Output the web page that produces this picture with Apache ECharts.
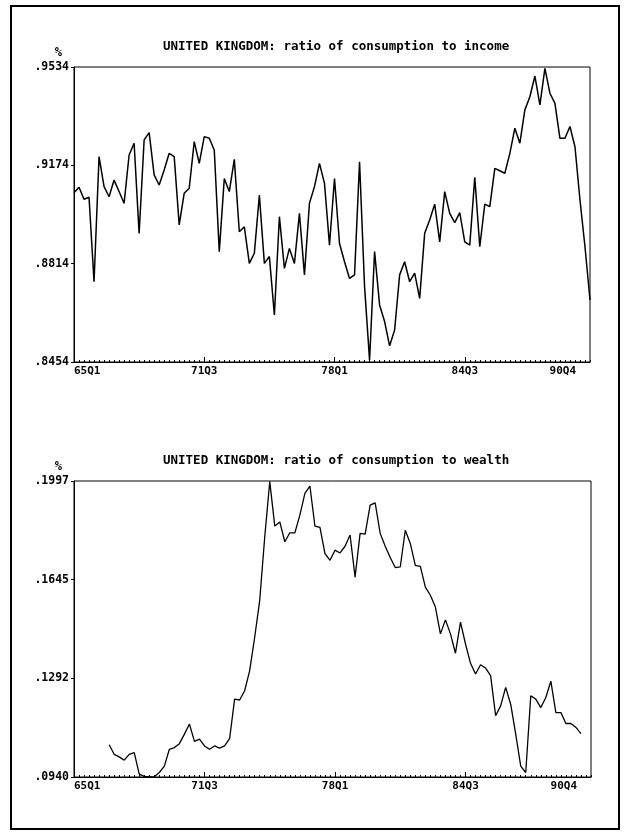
<!DOCTYPE html>
<html><head><meta charset="utf-8">
<script src="https://cdn.jsdelivr.net/npm/echarts@6.0.0/dist/echarts.min.js"></script>
<style>html,body{margin:0;padding:0;background:#fff}#c{width:624px;height:834px}</style>
</head><body><div id="c"></div>
<script>
// Quarterly categories 65Q1 .. 90Q4
const quarters = [];
for (let y = 65; y <= 90; y++) for (let q = 1; q <= 4; q++) quarters.push(y + 'Q' + q);
const xLabelIdx = [0, 26, 52, 78, 103];
const majorTickIdx = [26, 52, 78];
const incomeTicks = [0.8454, 0.8814, 0.9174, 0.9534];
const wealthTicks = [0.0940, 0.1292, 0.1645, 0.1997];
const titles = [
  'UNITED KINGDOM: ratio of consumption to income',
  'UNITED KINGDOM: ratio of consumption to wealth'
];
const incomeRatio = [
  .9074,.9094,.9050,.9057,.8748,.9206,.9096,.9059,.9120,.9078,
  .9035,.9212,.9255,.8925,.9267,.9294,.9139,.9102,.9157,.9218,
  .9206,.8956,.9072,.9090,.9261,.9181,.9279,.9273,.9230,.8858,
  .9126,.9078,.9196,.8931,.8949,.8815,.8852,.9065,.8815,.8840,
  .8626,.8986,.8797,.8870,.8815,.8998,.8773,.9035,.9096,.9181,
  .9108,.8882,.9126,.8888,.8821,.8760,.8773,.9187,.8730,.8461,
  .8858,.8663,.8602,.8513,.8571,.8773,.8821,.8748,.8779,.8687,
  .8925,.8974,.9032,.8894,.9078,.8998,.8964,.9001,.8894,.8882,
  .9130,.8876,.9032,.9023,.9163,.9154,.9145,.9218,.9310,.9255,
  .9377,.9425,.9501,.9395,.9529,.9438,.9401,.9273,.9273,.9316,
  .9242,.9047,.8876,.8681
];
const wealthRatio = [
  null,null,null,null,null,null,null,
  .1055,.1021,.1012,.1000,.1021,.1027,.0950,.0942,.0940,.0941,
  .0956,.0979,.1039,.1045,.1059,.1093,.1129,.1067,.1075,.1051,
  .1039,.1051,.1043,.1051,.1077,.1218,.1215,.1248,.1320,.1439,
  .1571,.1797,.1995,.1836,.1851,.1780,.1812,.1812,.1875,.1953,
  .1979,.1836,.1831,.1738,.1714,.1750,.1740,.1764,.1804,.1654,
  .1810,.1807,.1911,.1919,.1810,.1764,.1724,.1688,.1690,.1821,
  .1774,.1696,.1692,.1618,.1589,.1547,.1451,.1501,.1451,.1382,
  .1493,.1415,.1346,.1308,.1341,.1329,.1302,.1159,.1194,.1260,
  .1200,.1093,.0979,.0956,.1230,.1218,.1188,.1224,.1282,.1170,
  .1170,.1131,.1131,.1117,.1095,null,null
];

const FONT = 'DejaVu Sans Mono';
const fmt = v => v.toFixed(4).replace(/^0/, '');
const lastIdx = xLabelIdx[xLabelIdx.length - 1];
const panels = [
  {title: titles[0], data: incomeRatio, ticks: incomeTicks, grid: {left: 74, top: 67, width: 516, height: 295}, titleTop: 35, lw: 1.5},
  {title: titles[1], data: wealthRatio, ticks: wealthTicks, grid: {left: 74, top: 481, width: 517, height: 296}, titleTop: 449, lw: 1.3}
];

const option = {
  animation: false,
  backgroundColor: '#fff',
  title: panels.map(p => ({
    text: p.title, left: 158, top: p.titleTop,
    textStyle: {fontFamily: FONT, fontWeight: 'bold', fontSize: 12.5, color: '#000'}
  })),
  grid: panels.map(p => Object.assign({show: true, borderColor: '#000', borderWidth: 1, backgroundColor: 'transparent'}, p.grid)),
  xAxis: [],
  yAxis: [],
  series: [],
  graphic: [{
    type: 'rect', shape: {x: 11, y: 6, width: 608, height: 823},
    style: {fill: 'none', stroke: '#000', lineWidth: 2}, silent: true
  }]
};

panels.forEach((p, g) => {
  option.xAxis.push({
    type: 'category', gridIndex: g, data: quarters, boundaryGap: false, position: 'bottom',
    axisLine: {lineStyle: {color: '#000', width: 1}},
    axisTick: {interval: 0, inside: true, length: 2, lineStyle: {color: '#000'}},
    axisLabel: {
      interval: (i) => xLabelIdx.includes(i),
      formatter: (v, i) => i === lastIdx ? '{last|' + v + '}' : v,
      rich: {last: {padding: [0, 14, 0, 0], color: '#000', fontFamily: FONT, fontWeight: 'bold', fontSize: 11}},
      alignMinLabel: 'left', alignMaxLabel: 'right',
      color: '#000', fontFamily: FONT, fontWeight: 'bold', fontSize: 11, margin: 4
    },
    splitLine: {show: false}
  });
  option.xAxis.push({
    type: 'category', gridIndex: g, data: quarters, boundaryGap: false, position: 'bottom',
    axisLine: {show: false}, axisLabel: {show: false},
    axisTick: {interval: (i) => majorTickIdx.includes(i), inside: true, length: 5, lineStyle: {color: '#000'}},
    splitLine: {show: false}
  });
  option.yAxis.push({
    type: 'value', gridIndex: g, min: p.ticks[0], max: p.ticks[p.ticks.length - 1],
    name: '%', nameLocation: 'end', nameGap: 8,
    nameTextStyle: {color: '#000', fontFamily: FONT, fontWeight: 'bold', fontSize: 12, align: 'right', padding: [0, 12, 0, 0]},
    axisLine: {show: true, lineStyle: {color: '#000', width: 1}},
    axisTick: {show: true, customValues: p.ticks, length: 3, lineStyle: {color: '#000'}},
    axisLabel: {customValues: p.ticks, formatter: fmt, color: '#000', fontFamily: FONT, fontWeight: 'bold', fontSize: 11.5, margin: 5},
    splitLine: {show: false}
  });
  option.series.push({
    type: 'line', xAxisIndex: g * 2, yAxisIndex: g, data: p.data,
    showSymbol: false, connectNulls: false,
    lineStyle: {color: '#000', width: p.lw}
  });
});

echarts.init(document.getElementById('c'), null, {renderer: 'canvas'}).setOption(option);
</script>
</body></html>
